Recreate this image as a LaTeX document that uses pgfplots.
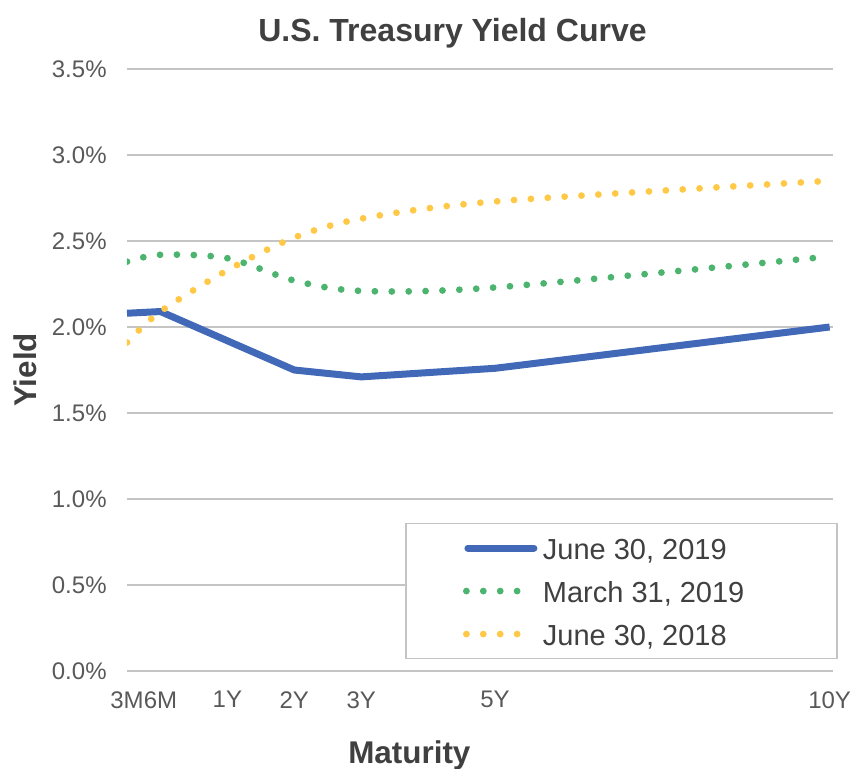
\documentclass[border=0pt]{standalone}
\usepackage{fontspec}
\setmainfont{Liberation Sans}
\usepackage{pgfplots}
\pgfplotsset{compat=1.18}

\definecolor{jun19}{HTML}{4169B8}
\definecolor{mar19}{HTML}{4CB46E}
\definecolor{jun18}{HTML}{FFC947}
\definecolor{gridgray}{HTML}{C4C4C4}
\definecolor{ticktext}{HTML}{595959}
\definecolor{labeltext}{HTML}{404040}

\pgfplotsset{
    solid legend/.style={legend image code/.code={
        \path (-27.5pt,0pt) (36.5pt,0pt);
        \draw[##1, line cap=round] (1.75pt,0pt) -- (34.75pt,0pt);}},
    dot legend/.style={legend image code/.code={
        \path (-27.5pt,0pt) (36.5pt,0pt);
        \draw[##1, sharp plot] (1pt,0pt) -- (28.5pt,0pt);}},
}

% maturities sit at 3M=0, 6M=0.5, 1Y=1.5, 2Y=2.5, 3Y=3.5, 5Y=5.5, 10Y=10.5
\pgfplotstableread{
x    y
0    2.08
0.5  2.09
1.5  1.92
2.5  1.75
3.5  1.71
5.5  1.76
10.5 2.00
}\junnineteen
\pgfplotstableread{
x    y
0    2.38
0.5  2.42
1.5  2.40
2.5  2.27
3.5  2.21
5.5  2.23
10.5 2.41
}\marnineteen
\pgfplotstableread{
x    y
0    1.91
0.5  2.09
1.5  2.33
2.5  2.52
3.5  2.63
5.5  2.73
10.5 2.85
}\juneighteen

\begin{document}
\begin{tikzpicture}
\begin{axis}[
    name=ax,
    scale only axis, width=353pt, height=301pt,
    xmin=0, xmax=10.55, ymin=0, ymax=3.5,
    axis line style={draw=none},
    major tick length=0pt,
    xtick={0,0.5,1.5,2.5,3.5,5.5,10.5},
    xticklabels={3M,6M,1Y,2Y,3Y,5Y,10Y},
    ytick={0,0.5,1,1.5,2,2.5,3,3.5},
    yticklabels={0.0\%,0.5\%,1.0\%,1.5\%,2.0\%,2.5\%,3.0\%,3.5\%},
    ymajorgrids=true,
    grid style={gridgray, line width=0.75pt},
    ticklabel style={font=\fontsize{12}{14}\selectfont, text=ticktext},
    yticklabel style={anchor=east, inner sep=0pt, xshift=-10pt},
    xticklabel style={anchor=north, inner sep=0pt, yshift=-10pt},
    title={U.S. Treasury Yield Curve},
    title style={font=\bfseries\fontsize{16}{19}\selectfont, text=labeltext,
                 at={(axis description cs:0.461,1.04)}, anchor=center},
    xlabel={Maturity},
    xlabel style={font=\bfseries\fontsize{15.7}{18}\selectfont, text=labeltext,
                  at={(axis description cs:0.4,-0.14)}, anchor=center},
    ylabel={Yield},
    ylabel style={font=\bfseries\fontsize{15.7}{18}\selectfont, text=labeltext,
                  at={(axis description cs:-0.1445,0.5)}, anchor=center},
    legend style={at={(axis description cs:0.394,0.246)}, anchor=north west,
                  draw=gridgray, line width=0.75pt, fill=white,
                  font=\fontsize{14.5}{17}\selectfont, text=labeltext,
                  inner xsep=0pt, inner ysep=3.7pt, row sep=4.5pt,
                  nodes={inner sep=0pt, text height=14pt, text depth=3pt},
                  column sep=1pt},
    legend cell align=left,
]
\addplot[jun19, line width=3.5pt, line join=round, solid legend]
    table {\junnineteen};
\addlegendentry{June 30, 2019}

\addplot[mar19, line width=3.4pt, line cap=round, dash pattern=on 0pt off 8.45pt,
    smooth, dot legend]
    table {\marnineteen};
\addlegendentry{\makebox[147pt][l]{March 31, 2019}}

\addplot[jun18, line width=3.4pt, line cap=round, dash pattern=on 0pt off 8.45pt,
    smooth, dot legend]
    table {\juneighteen};
\addlegendentry{June 30, 2018}
\end{axis}
\pgfresetboundingbox
\path[use as bounding box] (ax.south west) ++(-63.5pt,-48.5pt) rectangle ++(429pt,384pt);
\end{tikzpicture}
\end{document}
